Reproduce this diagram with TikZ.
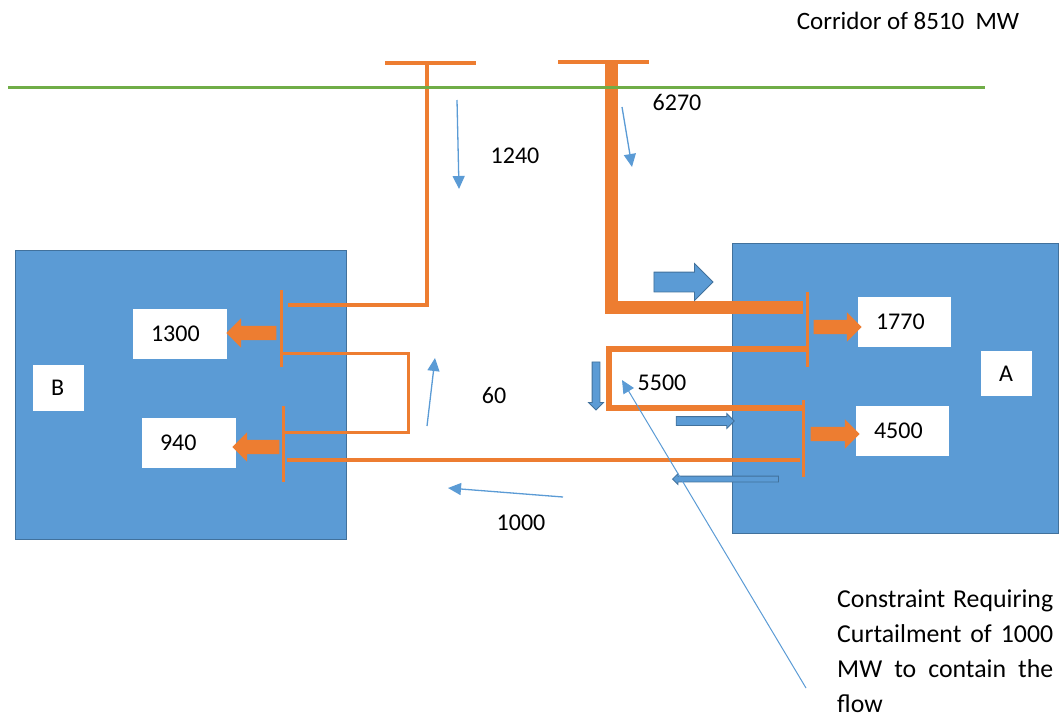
\documentclass[tikz,border=0pt]{standalone}
\usepackage{fontspec}
\setmainfont{Carlito}
\usetikzlibrary{arrows.meta,positioning,shapes.arrows}
\definecolor{lineorange}{HTML}{ED7D31}
\definecolor{areablue}{HTML}{5B9BD5}
\definecolor{edgeblue}{HTML}{41719C}
\definecolor{corridorgreen}{HTML}{70AD47}

\begin{document}
\begin{tikzpicture}[
  x=1pt, y=-1pt,
  font=\fontsize{24}{29}\selectfont,
  area/.style={fill=areablue, draw=edgeblue, line width=0.8pt},
  wbox/.style={fill=white, inner xsep=18pt, inner ysep=0pt, minimum height=50pt, align=left},
  feed/.style={lineorange, line width=4.5pt},
  bus/.style={lineorange, line width=3pt},
  flow/.style={-{Triangle[length=13pt,width=12pt]}, areablue, line width=1.3pt},
  oarrow/.style={single arrow, fill=lineorange, inner sep=0pt, text height=14pt, text depth=0pt, single arrow head extend=7.5pt},
  barrow/.style={single arrow, fill=areablue, draw=edgeblue, line width=0.8pt, inner sep=0pt, text depth=0pt}
]
\useasboundingbox (0,0) rectangle (1059,717);

% Draw the two areas
\draw[area] (15,250) rectangle (346,539);
\draw[area] (732,243) rectangle (1058,533);

% Draw feeders from the corridor
\draw[lineorange, line width=3.5pt] (385,63) -- (476,63);
\draw[lineorange, line width=3.5pt] (558,62) -- (649,62);
\draw[feed] (427,63) -- (427,305) -- (288,305);
\draw[lineorange, line width=13pt] (611,62) -- (611,307) -- (803,307);

% Draw bus bars and ties
\draw[bus] (281,290) -- (281,367);
\draw[bus] (283,406) -- (283,482);
\draw[bus] (807,292) -- (807,367);
\draw[bus] (803,400) -- (803,477);
\draw[bus] (281,353) -- (408,353) -- (408,432) -- (283,432);
\draw[lineorange, line width=6.5pt] (807,349) -- (609,349) -- (609,408) -- (802,408);
\draw[feed, line width=4pt] (800,460) -- (287,460);

% Corridor line
\draw[corridorgreen, line width=3pt] (8,87) -- (985,87);
\node[font=\fontsize{25}{30}\selectfont] (corridor) at (908,21) {Corridor of 8510\ \ MW};

% Load boxes
\node[wbox, text width=58pt] (l1300) at (180,334) {1300};
\node[wbox, text width=58pt] (l940) at (189,443) {940};
\node[wbox, text width=57pt] (l1770) at (904.5,322) {1770};
\node[wbox, text width=57pt] (l4500) at (902.5,431) {4500};
\node[wbox, text width=15pt, minimum height=46pt] (nameB) at (58.5,388) {B};
\node[wbox, text width=15pt, minimum height=45pt] (nameA) at (1006.5,373.5) {A};

% Orange load arrows
\node[oarrow, minimum height=50pt, rotate=180] (o1300) at (255,333) {};
\node[oarrow, minimum height=47pt, rotate=180] (o940) at (259.5,447) {};
\node[oarrow, minimum height=48pt] (o1770) at (834,327) {};
\node[oarrow, minimum height=49pt] (o4500) at (831.5,434) {};

% Blue block arrows
\node[barrow, minimum height=59pt, text height=19pt, single arrow head extend=8.5pt] (bbig) at (678.5,282) {};
\node[barrow, minimum height=58pt, text height=8pt, single arrow head extend=3pt] (bright) at (703,421) {};
\node[barrow, minimum height=106pt, text height=5pt, single arrow head extend=2.5pt, rotate=180] (bleft) at (727,479) {};
\node[barrow, minimum height=48pt, text height=7pt, single arrow head extend=3.5pt, rotate=-90] (bdown) at (596,384) {};

% Flow arrows and values
\coordinate (f1240a) at (457,100);
\coordinate (f1240b) at (459,189);
\coordinate (f6270a) at (622,107);
\coordinate (f6270b) at (632,167);
\coordinate (f60a) at (427,426);
\coordinate (f60b) at (435,358);
\coordinate (f1000a) at (563,497);
\coordinate (f1000b) at (448,488);
\draw[flow] (f1240a) -- (f1240b);
\draw[flow] (f6270a) -- (f6270b);
\draw[flow] (f60a) -- (f60b);
\draw[flow] (f1000a) -- (f1000b);
\node (v1240) at (515,156) {1240};
\node (v6270) at (677,102) {6270};
\node (v60) at (494,395) {60};
\node (v5500) at (662,383) {5500};
\node (v1000) at (521,523) {1000};

% Constraint note
\node[anchor=north west, inner sep=0pt, align=left, font=\fontsize{25.8}{35}\selectfont] (constraint) at (837,590)
  {\hbox to 216pt{Constraint\hfill Requiring}\\\hbox to 216pt{Curtailment\hfill of\hfill 1000}\\\hbox to 216pt{MW\hfill to\hfill contain\hfill the}\\flow};
\coordinate (noteend) at (806,688);
\coordinate (notetip) at (622,380);
\draw[flow, line width=1pt] (noteend) -- (notetip);

\end{tikzpicture}
\end{document}
